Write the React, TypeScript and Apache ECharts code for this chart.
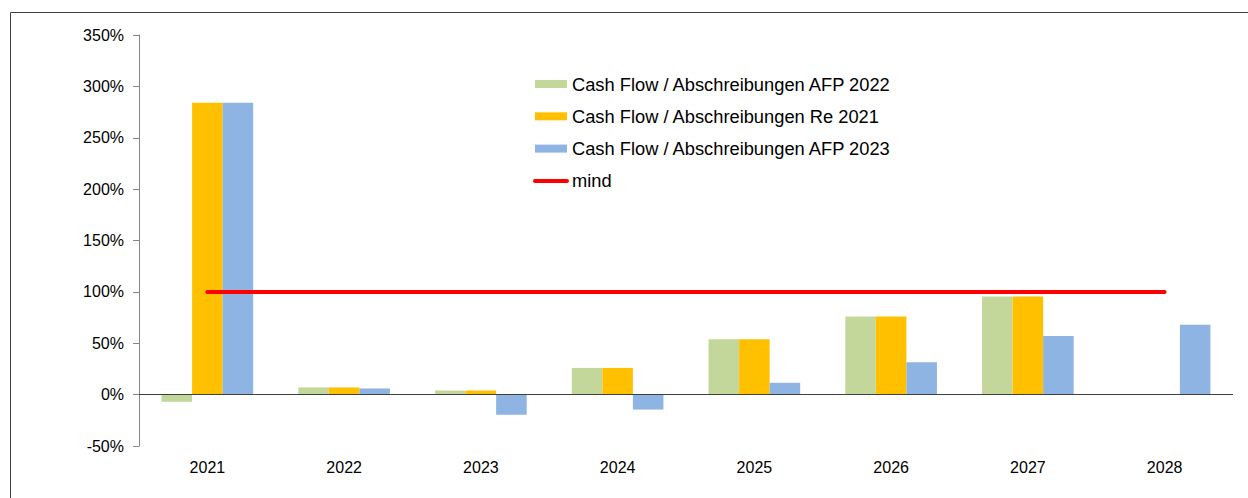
import React, { useEffect, useRef } from "react";
import * as echarts from "echarts";

const categories = ["2021", "2022", "2023", "2024", "2025", "2026", "2027", "2028"];
const afp2022 = [-7, 7, 4, 26, 54, 76, 95.5, null];
const re2021 = [284, 7, 4, 26, 54, 76, 95.5, null];
const afp2023 = [284, 6, -19.5, -14.5, 11.5, 31.5, 57, 68];
const mind = [100, 100, 100, 100, 100, 100, 100, 100];

const FONT = "Liberation Sans";

export default function App() {
  const ref = useRef<HTMLDivElement>(null);
  useEffect(() => {
    const chart = echarts.init(ref.current!, null, { renderer: "svg" });
    chart.setOption({
      animation: false,
      backgroundColor: "#ffffff",
      textStyle: { fontFamily: FONT },
      graphic: [
        {
          type: "rect",
          shape: { x: 10.5, y: 12.5, width: 1260, height: 520 },
          style: { fill: "none", stroke: "#404040", lineWidth: 1 },
          silent: true,
        },
      ],
      grid: { left: 139, top: 35, right: 15, bottom: 52 },
      legend: {
        orient: "vertical",
        left: 533,
        top: 74,
        padding: 0,
        itemWidth: 32,
        itemHeight: 8,
        itemGap: 12.3,
        textStyle: { fontFamily: FONT, fontSize: 18.3, color: "#000", lineHeight: 20 },
        data: [
          { name: "Cash Flow / Abschreibungen AFP 2022", icon: "rect" },
          { name: "Cash Flow / Abschreibungen Re 2021", icon: "rect" },
          { name: "Cash Flow / Abschreibungen AFP 2023", icon: "rect" },
          { name: "mind", itemStyle: { opacity: 0 }, lineStyle: { width: 4, color: "#FF0000", cap: "round" } },
        ],
      },
      xAxis: {
        type: "category",
        data: categories,
        axisLine: { show: false, onZero: false },
        axisTick: { show: false },
        axisLabel: { fontFamily: FONT, fontSize: 16, color: "#000", margin: 13 },
        splitLine: { show: false },
      },
      yAxis: {
        type: "value",
        min: -50,
        max: 350,
        interval: 50,
        axisLine: { show: true, lineStyle: { color: "#868686", width: 1 } },
        axisTick: { show: true, length: 6, lineStyle: { color: "#868686" } },
        axisLabel: { fontFamily: FONT, fontSize: 16, color: "#000", margin: 15, formatter: "{value}%" },
        splitLine: { show: false },
      },
      series: [
        {
          name: "Cash Flow / Abschreibungen AFP 2022",
          type: "bar",
          data: afp2022,
          barGap: "0%",
          barCategoryGap: "33%",
          itemStyle: { color: "#C4D79B" },
          markLine: {
            silent: true,
            symbol: "none",
            label: { show: false },
            lineStyle: { color: "#404040", width: 1, type: "solid" },
            data: [{ yAxis: 0 }],
            z: 10,
          },
        },
        {
          name: "Cash Flow / Abschreibungen Re 2021",
          type: "bar",
          data: re2021,
          barGap: "0%",
          barCategoryGap: "33%",
          itemStyle: { color: "#FFC000" },
        },
        {
          name: "Cash Flow / Abschreibungen AFP 2023",
          type: "bar",
          data: afp2023,
          barGap: "0%",
          barCategoryGap: "33%",
          itemStyle: { color: "#8DB4E2" },
        },
        {
          name: "mind",
          type: "line",
          data: mind,
          symbol: "none",
          itemStyle: { color: "#FF0000" },
          lineStyle: { color: "#FF0000", width: 4, cap: "round" },
          z: 5,
        },
      ],
    });
    return () => chart.dispose();
  }, []);
  return (
    <div
      ref={ref}
      style={{ position: "fixed", left: 0, top: 0, width: 1248, height: 498 }}
    />
  );
}
